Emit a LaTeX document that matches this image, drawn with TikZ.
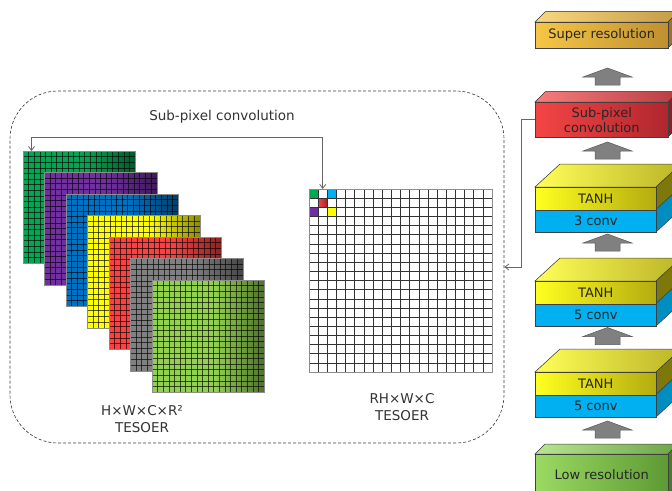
\documentclass[tikz,border=0pt]{standalone}
\usepackage{fontspec}
\setmainfont{DejaVu Sans}
\usetikzlibrary{arrows.meta}
\definecolor{mgreen}{HTML}{00A651}
\definecolor{mpurple}{HTML}{7030A0}
\definecolor{mblue}{HTML}{0070C0}
\definecolor{myellow}{HTML}{FFFF00}
\definecolor{mred}{HTML}{FF4040}
\definecolor{mgray}{HTML}{808080}
\definecolor{mlgreen}{HTML}{92D050}
\definecolor{cblue}{HTML}{00B0F0}
\definecolor{txt}{HTML}{333333}
\definecolor{edge}{HTML}{404040}
\definecolor{supL}{HTML}{F7C646}
\definecolor{supR}{HTML}{BF9030}
\definecolor{redL}{HTML}{F44545}
\definecolor{redR}{HTML}{B0262E}
\definecolor{lowL}{HTML}{9ADA62}
\definecolor{lowR}{HTML}{5E9A34}
\definecolor{yelL}{HTML}{FFFF20}
\definecolor{yelR}{HTML}{B4AC10}
\tikzset{
  fmap/.style={inner sep=0pt, minimum width=112pt, minimum height=112pt, anchor=north west},
  fmline/.style={black, opacity=0.65, line width=0.55pt},
  fmborder/.style={draw=black!45, line width=0.6pt},
  gline/.style={black!80, line width=0.55pt},
  conn/.style={draw=black!60, line width=0.8pt},
  barb/.style={-{Straight Barb[length=4pt,width=6pt]}},
  lbl/.style={text=txt, font=\fontsize{13.5}{17}\selectfont, align=center},
  boxtxt/.style={text=black!85, font=\fontsize{13}{15}\selectfont, align=center},
  facedraw/.style={draw=edge, line width=0.5pt},
  blockarrow/.style={fill=black!50, draw=black!65, line width=0.5pt},
}
\newcommand{\featmap}[4]{%
  \node[fmap, fill=#4] (#1) at (#2,#3) {};
  \begin{scope}[shift={(#2,#3)}]
    \fill[left color=#4, right color=#4!55!black] (62,0) rectangle (112,112);
    \foreach \i in {1,...,19}{
      \draw[fmline] (\i*5.6,0) -- (\i*5.6,112);
      \draw[fmline] (0,\i*5.6) -- (112,\i*5.6);
    }
  \end{scope}
  \draw[fmborder] (#1.north west) rectangle (#1.south east);
}
\newcommand{\slabbox}[6]{% name, ytop, ybottom, depth, color prefix, text
  \fill[facedraw, left color=#5L!70!white, right color=#5R!90!white] (535,#2) -- (535+#4,#2-#4) -- (668+#4,#2-#4) -- (668,#2) -- cycle;
  \fill[facedraw, fill=#5R!80!black] (668,#2) -- (668+#4,#2-#4) -- (668+#4,#3-#4) -- (668,#3) -- cycle;
  \node[facedraw, boxtxt, left color=#5L, right color=#5R, inner sep=0pt, minimum width=133pt, minimum height={(#3-#2)*1pt}, anchor=north west] (#1) at (535,#2) {#6};
}
\newcommand{\tanhbox}[3]{% name, ytop, conv text
  \fill[facedraw, left color=yelL!75!white, right color=yelR!90!white] (535,#2) -- (560,#2-23) -- (681,#2-23) -- (656,#2) -- cycle;
  \fill[facedraw, fill=yelR!70!black] (656,#2) -- (681,#2-23) -- (681,#2-0.5) -- (656,#2+22.5) -- cycle;
  \fill[facedraw, fill=cblue!80!black] (656,#2+22.5) -- (681,#2-0.5) -- (681,#2+22) -- (656,#2+45) -- cycle;
  \node[facedraw, boxtxt, left color=yelL, right color=yelR, inner sep=0pt, minimum width=121pt, minimum height=22.5pt, anchor=north west] (#1t) at (535,#2) {TANH};
  \node[facedraw, boxtxt, fill=cblue, inner sep=0pt, minimum width=121pt, minimum height=22.5pt, anchor=north west] (#1c) at (535,#2+22.5) {#3};
}
\newcommand{\upblock}[1]{%
  \filldraw[blockarrow] (607.5,#1) -- (632,#1+9) -- (620,#1+9) -- (620,#1+17) -- (595,#1+17) -- (595,#1+9) -- (583,#1+9) -- cycle;
}
\begin{document}
\begin{tikzpicture}[x=1pt,y=-1pt]
\useasboundingbox (0,0) rectangle (672,490);
\fill[white] (0,0) rectangle (672,490);

% dashed frame
\node[draw=black!75, line width=0.65pt, dash pattern=on 3pt off 2pt, rounded corners=48pt,
      minimum width=494pt, minimum height=352pt, inner sep=0pt] (dbox) at (257,267) {};
\node[lbl] (title) at (222,117) {Sub-pixel convolution};

% feature maps
\featmap{m1}{23}{151}{mgreen}
\featmap{m2}{44.5}{172.5}{mpurple}
\featmap{m3}{66}{194}{mblue}
\featmap{m4}{87.5}{215.5}{myellow}
\featmap{m5}{109}{237}{mred}
\featmap{m6}{130.5}{258.5}{mgray}
\featmap{m7}{152}{280}{mlgreen}

% output grid
\node[fill=white, inner sep=0pt, minimum width=183pt, minimum height=183pt, anchor=north west] (grid) at (309,189) {};
\begin{scope}[shift={(309,189)}]
  \fill[mgreen] (0,0) rectangle (9.15,9.15);
  \fill[cblue] (18.3,0) rectangle (27.45,9.15);
  \fill[left color=mred, right color=mred!60!black] (9.15,9.15) rectangle (18.3,18.3);
  \fill[mpurple] (0,18.3) rectangle (9.15,27.45);
  \fill[myellow] (18.3,18.3) rectangle (27.45,27.45);
  \foreach \i in {1,...,19}{
    \draw[gline] (\i*9.15,0) -- (\i*9.15,183);
    \draw[gline] (0,\i*9.15) -- (183,\i*9.15);
  }
\end{scope}
\draw[draw=black!45, line width=0.7pt] (grid.north west) rectangle (grid.south east);

\node[lbl] (lab1) at (142,419.5) {H×W×C×R²\\TESOER};
\node[lbl] (lab2) at (402,407.5) {RH×W×C\\TESOER};

% sub-pixel arrow
\coordinate (gtop) at (322.7,189);
\coordinate (mtop) at (31.5,151);
\draw[conn, {Straight Barb[length=4pt,width=6pt]}-{Straight Barb[length=4pt,width=6pt]}] (gtop) -- ++(0,-52) -| (mtop);

% right column
\slabbox{sr}{22}{48}{10.5}{sup}{Super resolution}
\upblock{68}
\slabbox{sp}{102}{137}{10.5}{red}{Sub-pixel\\convolution}
\upblock{142}
\tanhbox{b1}{187}{3 conv}
\upblock{234}
\tanhbox{b2}{281}{5 conv}
\upblock{327.5}
\tanhbox{b3}{372}{5 conv}
\upblock{421}
\slabbox{lr}{454}{494}{10}{low}{Low resolution}

\draw[conn, barb] (sp.west) -- ++(-14,0) |- (dbox.east);
\end{tikzpicture}
\end{document}
